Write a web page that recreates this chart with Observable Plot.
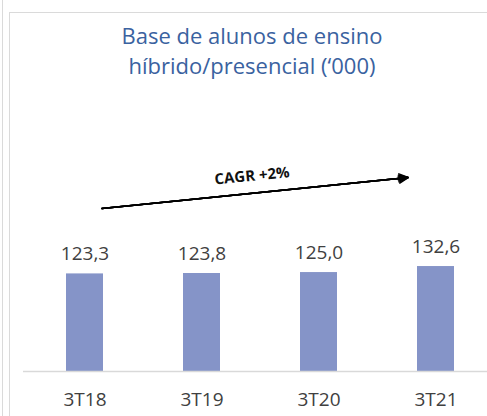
<!DOCTYPE html>
<html>
<head>
<meta charset="utf-8">
<script src="https://cdn.jsdelivr.net/npm/d3@7"></script>
<script src="https://cdn.jsdelivr.net/npm/@observablehq/plot@0.6"></script>
<style>
  body { margin: 0; background: #fff; }
  #wrap { position: relative; width: 487px; height: 416px; overflow: hidden; background: #fff; font-family: "Open Sans", sans-serif; }
  #outerline { position: absolute; left: 2px; top: 0; width: 1px; height: 416px; background: #dadada; }
  #box { position: absolute; left: 9px; top: 12px; width: 520px; height: 440px; border-left: 1px solid #dadada; border-top: 1px solid #dadada; }
  #title { position: absolute; left: 10px; top: 13px; width: 484px; text-align: center; color: #3a62a0; font-size: 22px; line-height: 30px; padding-top: 7px; }
  #chart { position: absolute; left: 0; top: 90px; }
</style>
</head>
<body>
<div id="wrap">
  <div id="outerline"></div>
  <div id="box"></div>
  <div id="title">Base de alunos de ensino<br>híbrido/presencial (‘000)</div>
  <div id="chart"></div>
</div>
<script>
const quarters = ["3T18", "3T19", "3T20", "3T21"];
const students = [123.3, 123.8, 125.0, 132.6];
const cagrLabel = "CAGR +2%";
const arrowFrom = "3T18";
const arrowTo = "3T21";
const arrowValues = [203.7, 248.6];

const data = quarters.map((q, i) => ({q, v: students[i]}));
const fmt = v => d3.format(".1f")(v).replace(".", ",");
const arrowData = [{a: arrowFrom, b: arrowTo, y1: arrowValues[0], y2: arrowValues[1]}];

const headAngles = [55, 42, 30, 18, 6];

const chart = Plot.plot({
  width: 487,
  height: 326,
  marginLeft: 23,
  marginRight: 0,
  marginTop: 0,
  marginBottom: 45,
  style: {fontFamily: "'Open Sans', sans-serif", background: "transparent"},
  x: {domain: quarters, range: [23, 496], paddingInner: 0.686, paddingOuter: 0.353, label: null},
  y: {domain: [0, 355], axis: null},
  marks: [
    Plot.barY(data, {x: "q", y: "v", fill: "#8594c8"}),
    Plot.ruleY([0], {stroke: "#d9d9d9", strokeWidth: 1.5}),
    Plot.text(data, {x: "q", y: "v", text: d => fmt(d.v), dy: -20, fontSize: 19, fill: "#404040"}),
    Plot.axisX({tickSize: 0, tickPadding: 21, fontSize: 19, color: "#404040", label: null}),
    ...headAngles.map(ha => Plot.arrow(arrowData, {
      x1: "a", x2: "b", y1: "y1", y2: "y2",
      insetStart: 17, insetEnd: 28,
      stroke: "#000", strokeWidth: 1.5, headLength: 10, headAngle: ha
    })),
    Plot.text([cagrLabel], {x: () => "3T19", y: () => 246.9, text: d => d, dx: 50, rotate: -5.5, fontSize: 15, fontWeight: "bold", fill: "#111"})
  ]
});
document.getElementById("chart").appendChild(chart);
</script>
</body>
</html>
